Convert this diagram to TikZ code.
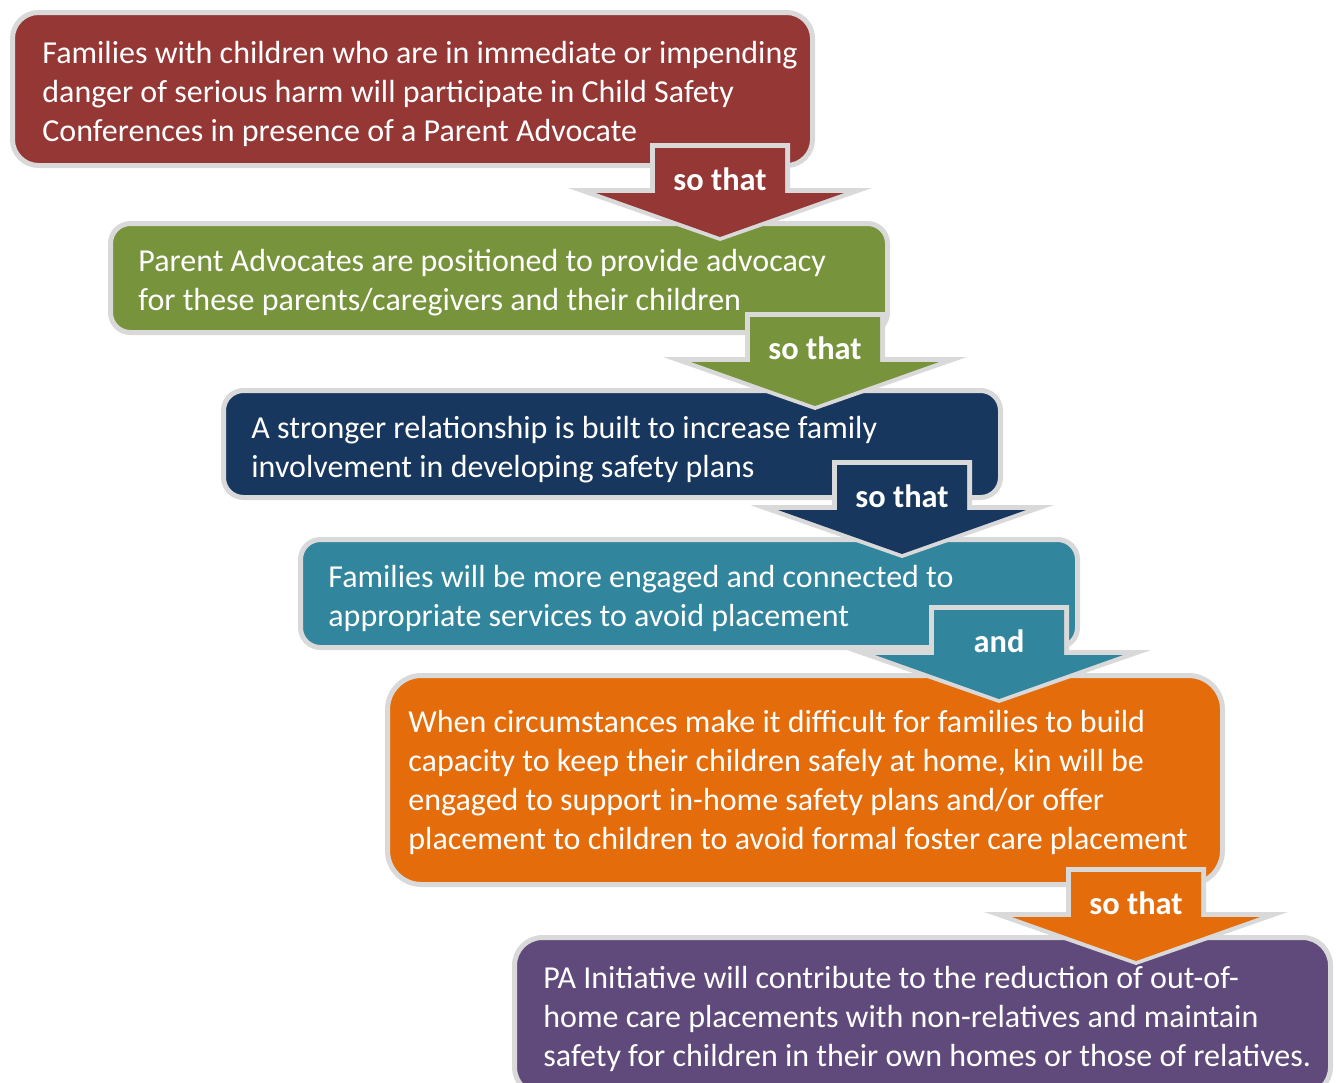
\documentclass[tikz,border=0pt]{standalone}
\usepackage{fontspec}
\setmainfont{Carlito}
\usetikzlibrary{fit}

\definecolor{rimgray}{HTML}{D9D9D9}
\definecolor{stagered}{HTML}{953735}
\definecolor{stagegreen}{HTML}{77933C}
\definecolor{stagenavy}{HTML}{17375E}
\definecolor{stageteal}{HTML}{31859C}
\definecolor{stageorange}{HTML}{E46C0A}
\definecolor{stagepurple}{HTML}{604A7B}

\tikzset{
  stagebox/.style={draw=rimgray, line width=2.5pt, rounded corners=10pt,
    inner sep=0pt, outer sep=0pt},
  stagetext/.style={anchor=north west, inner sep=0pt, align=left, text=white,
    font=\fontsize{16}{19.5}\selectfont},
  linklabel/.style={anchor=base, inner sep=0pt, text=white,
    font=\fontsize{16.2}{19.5}\selectfont\bfseries},
}

% block arrow: #1 = centre x, #2 = top y, #3 = fill colour
\newcommand{\stagearrow}[3]{%
  \fill[rimgray] (#1-70,#2) -- (#1+70,#2) -- (#1+70,#2+45) -- (#1+152,#2+45)
    -- (#1,#2+98) -- (#1-152,#2+45) -- (#1-70,#2+45) -- cycle;
  \fill[#3] (#1-65,#2+5) -- (#1+65,#2+5) -- (#1+65,#2+50) -- (#1+124,#2+50)
    -- (#1,#2+94) -- (#1-124,#2+50) -- (#1-65,#2+50) -- cycle;
}

\begin{document}
\begin{tikzpicture}[x=0.5pt, y=-0.5pt]
\useasboundingbox (0,0) rectangle (1336,1082);

% stage 1
\node[stagebox, rounded corners=13pt, fill=stagered, fit={(12.5,12.5) (812.5,165.5)}] (b1) {};
\node[stagetext] (t1) at (42,37) {\rule{0pt}{13pt}Families with children who are in immediate or impending\\
danger of serious harm will participate in Child Safety\\
Conferences in presence of a Parent Advocate};

% stage 2
\node[stagebox, fill=stagegreen, fit={(110.5,223.5) (887.5,332.5)}] (b2) {};
\node[stagetext] (t2) at (138,245) {\rule{0pt}{13pt}Parent Advocates are positioned to provide advocacy\\
for these parents/caregivers and their children};
\stagearrow{720}{143}{stagered}
\node[linklabel] (l1) at (720,190) {so that};

% stage 3
\node[stagebox, fill=stagenavy, fit={(223.5,390.5) (1000.5,497.5)}] (b3) {};
\node[stagetext] (t3) at (251,412) {\rule{0pt}{13pt}A stronger relationship is built to increase family\\
involvement in developing safety plans};
\stagearrow{815}{312}{stagegreen}
\node[linklabel] (l2) at (815,359.5) {so that};

% stage 4
\node[stagebox, fill=stageteal, fit={(300.5,539.5) (1077.5,647.5)}] (b4) {};
\node[stagetext] (t4) at (328,561) {\rule{0pt}{13pt}Families will be more engaged and connected to\\
appropriate services to avoid placement};
\stagearrow{902}{460}{stagenavy}
\node[linklabel] (l3) at (902,507.5) {so that};

% stage 5
\node[stagebox, rounded corners=17pt, fill=stageorange, fit={(387.5,675.5) (1222.5,884.5)}] (b5) {};
\node[stagetext] (t5) at (408,706) {\rule{0pt}{13pt}When circumstances make it difficult for families to build\\
capacity to keep their children safely at home, kin will be\\
engaged to support in-home safety plans and/or offer\\
placement to children to avoid formal foster care placement};
\stagearrow{999}{605}{stageteal}
\node[linklabel] (l4) at (999,652.5) {and};

% stage 6
\node[stagebox, rounded corners=14pt, fill=stagepurple, fit={(514.5,937.5) (1330.5,1095)}] (b6) {};
\node[stagetext] (t6) at (543,962) {\rule{0pt}{13pt}PA Initiative will contribute to the reduction of out-of-\\
home care placements with non-relatives and maintain\\
safety for children in their own homes or those of relatives.};
\stagearrow{1136}{867}{stageorange}
\node[linklabel] (l5) at (1136,914.5) {so that};

\end{tikzpicture}
\end{document}
